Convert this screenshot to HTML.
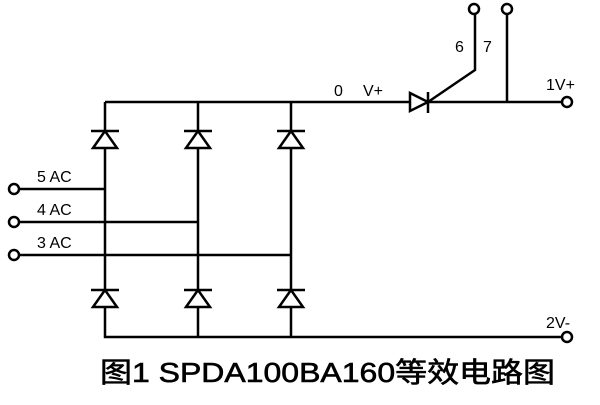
<!DOCTYPE html>
<html><head><style>body{margin:0;background:#fff}</style></head><body>
<svg width="600" height="400" xmlns="http://www.w3.org/2000/svg" font-family="Liberation Sans, Noto Sans CJK SC, sans-serif">
<g stroke="#000" stroke-width="2.5" fill="none">
<path d="M105 102H562M105 102V337H562M198 102V337M291 102V337"/>
<path d="M19 189H105M19 222H198M19 255H291"/>
<path d="M428 102L475 70V14M507 102V14"/>
<g fill="#fff">
<circle cx="14" cy="189" r="5"/><circle cx="14" cy="222" r="5"/><circle cx="14" cy="255" r="5"/>
<circle cx="567" cy="102" r="5"/><circle cx="567" cy="337" r="5"/>
<circle cx="474" cy="9" r="5"/><circle cx="507" cy="9" r="5"/>
<path d="M410 93L428 102L410 111Z"/>
</g>
<path d="M428 92V113"/>
<g id="d"><path d="M91 131H119M105 131L93 148H117Z" fill="#fff"/></g>
<use href="#d" x="93"/><use href="#d" x="186"/>
<use href="#d" y="159"/><use href="#d" x="93" y="159"/><use href="#d" x="186" y="159"/>
</g>
<g font-size="16" fill="#000">
<text x="37" y="182">5 AC</text><text x="37" y="215">4 AC</text><text x="37" y="248">3 AC</text>
<text x="334" y="96">0</text><text x="363" y="96">V+</text>
<text x="455" y="52">6</text><text x="483" y="52">7</text>
<text x="546" y="90">1V+</text><text x="546" y="328">2V-</text>
</g>
<text x="100" y="382" font-size="28" textLength="455" lengthAdjust="spacingAndGlyphs" fill="#000" stroke="#000" stroke-width="0.6">图1  SPDA100BA160等效电路图</text>
</svg>
</body></html>
